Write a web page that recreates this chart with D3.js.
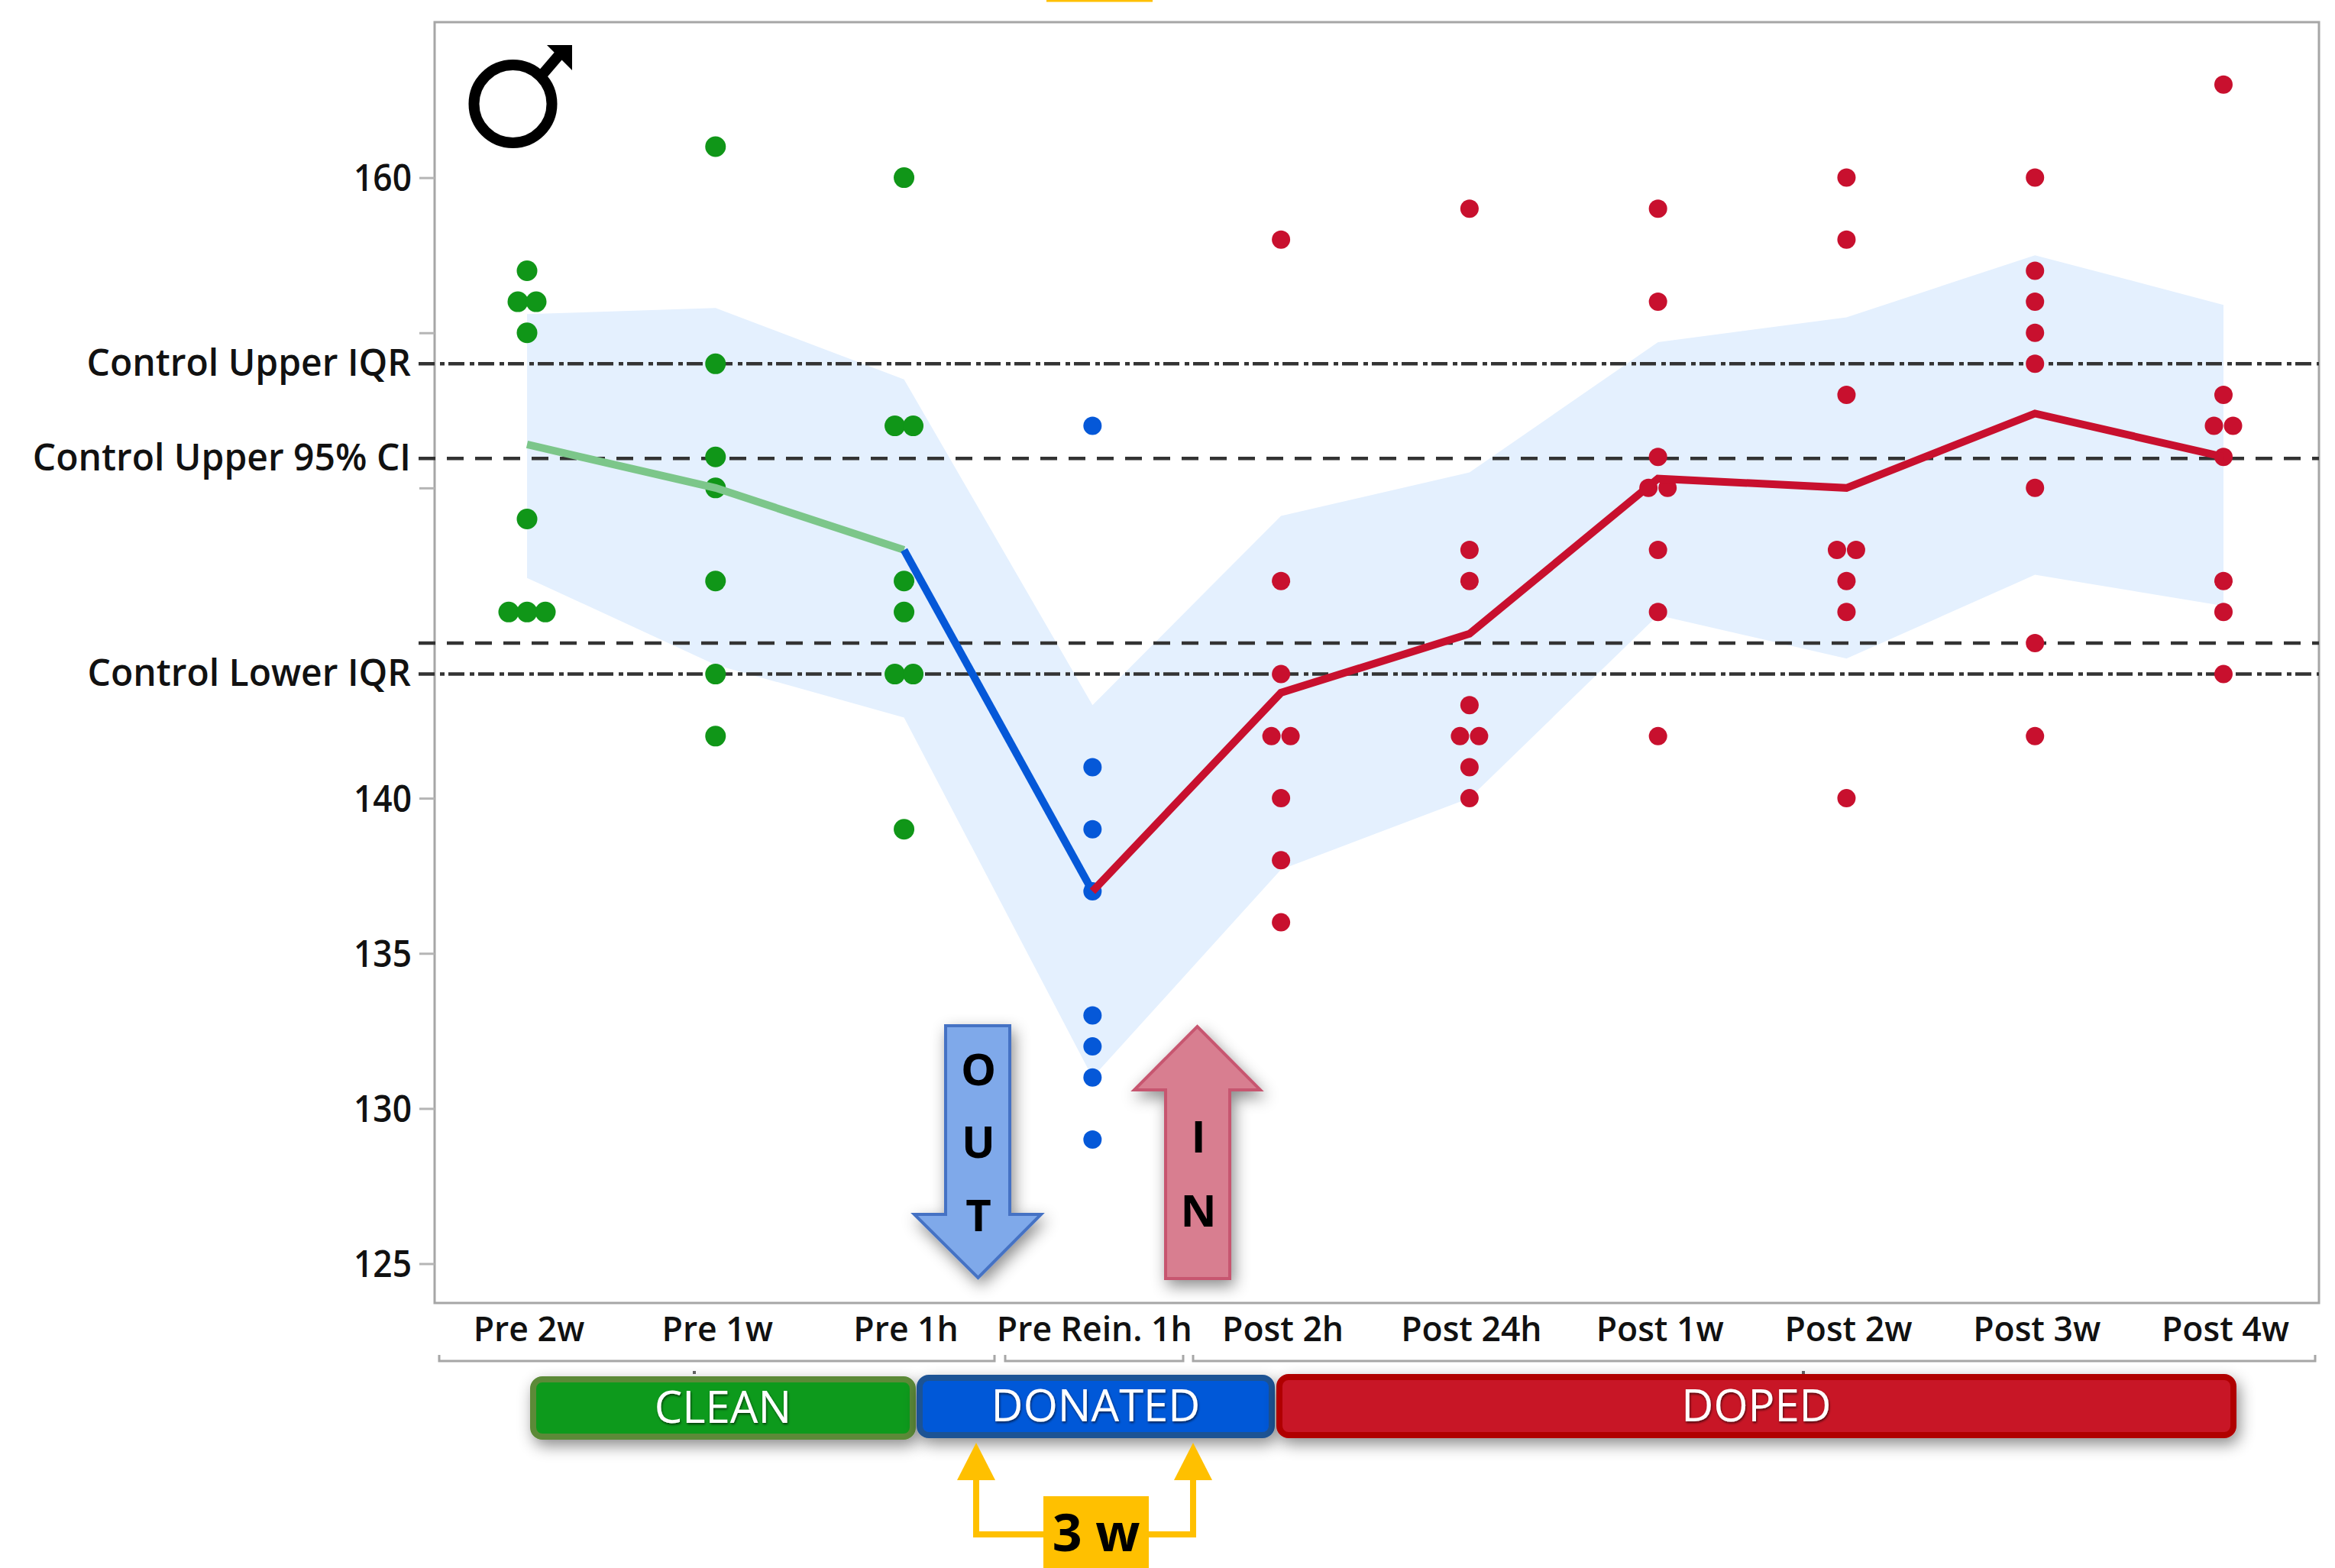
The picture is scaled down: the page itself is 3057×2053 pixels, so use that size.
<!DOCTYPE html>
<html><head><meta charset="utf-8">
<script src="https://cdn.jsdelivr.net/npm/d3@7/dist/d3.min.js"></script>
<style>html,body{margin:0;padding:0;background:#fff}svg{display:block}text{font-family:"Open Sans",sans-serif}</style>
</head><body><svg id="c" width="3057" height="2053"></svg>
<script>
const categories=["Pre 2w","Pre 1w","Pre 1h","Pre Rein. 1h","Post 2h","Post 24h","Post 1w","Post 2w","Post 3w","Post 4w"];
const groups=["clean","clean","clean","donated","doped","doped","doped","doped","doped","doped"];
const dotValues=[
 [157,156,156,155,149,146,146,146],
 [161,154,151,150,147,144,142],
 [160,152,152,147,146,144,144,139],
 [152,141,139,137,133,132,131,129],
 [158,147,144,142,142,140,138,136],
 [159,148,147,143,142,142,141,140],
 [159,156,151,150,150,148,146,142],
 [160,158,153,148,148,147,146,140],
 [160,157,156,155,154,150,145,142],
 [163,153,152,152,151,147,146,144]];
const meanLine=[151.4,150,148,137,143.4,145.3,150.3,150,152.4,151];
const bandUpper=[155.6,155.8,153.5,143,149.1,150.5,154.7,155.5,157.5,155.9];
const bandLower=[147.1,144.3,142.6,131,137.7,140,145.9,144.5,147.2,146.2];
const tickValues=[125,130,135,140,145,150,155,160];
const tickLabels=["125","130","135","140","","","","160"];
const refLabels=["Control Upper IQR","Control Upper 95% CI","","Control Lower IQR"];
const refValues=[154,150.95,145,144];
const refDash=["21 7 6 5","22 15","22 15","21 7 6 5"];
const phases=[["CLEAN",694,1199,1802,1885,"#119a1d","#5b8a37"],["DONATED",1200,1669,1800,1883,"#0558d8","#1f5394"],["DOPED",1671,2928,1799,1883,"#c81428","#b00000"]];

const L=569,R=3036,T=29,B=1706;
const svg=d3.select("#c");
const defs=svg.append("defs");
const f=defs.append("filter").attr("id","sh").attr("x","-20%").attr("y","-40%").attr("width","140%").attr("height","200%");
f.append("feDropShadow").attr("dx",4).attr("dy",8).attr("stdDeviation",10).attr("flood-color","#000").attr("flood-opacity",.45);
const f2=defs.append("filter").attr("id","ts").attr("x","-10%").attr("y","-10%").attr("width","120%").attr("height","130%");
f2.append("feDropShadow").attr("dx",1).attr("dy",2).attr("stdDeviation",1.5).attr("flood-color","#000").attr("flood-opacity",.6);

const x=d3.scalePoint().domain(categories).range([690,2911]);
const y=d3.scaleLinear().domain([125,160]).range([1654.5,232.6]);
const colors={clean:"#109618",donated:"#0558d8",doped:"#c8102e"};

// band
const area=d3.area().x((d,i)=>x(categories[i])).y0((d,i)=>y(bandLower[i])).y1((d,i)=>y(bandUpper[i]));
svg.append("path").attr("d",area(categories)).attr("fill","#e4f0fe");

// frame
svg.append("rect").attr("x",L).attr("y",T).attr("width",R-L).attr("height",B-T).attr("fill","none").attr("stroke","#a6a6a6").attr("stroke-width",3);

// y axis
const ya=d3.axisLeft(y).tickValues(tickValues).tickSize(20).tickFormat((d,i)=>tickLabels[i]);
const yg=svg.append("g").attr("transform",`translate(${L},0)`).call(ya);
yg.select(".domain").remove();
yg.selectAll("line").attr("stroke","#b5b5b5").attr("stroke-width",3);
yg.selectAll("text").attr("x",-30).attr("fill","#111").style("font-size","49px").style("font-weight",600).attr("dy","0.35em")
  .attr("textLength",d=>tickLabels[tickValues.indexOf(d)]?76:null).attr("lengthAdjust","spacingAndGlyphs");

// ref lines
refValues.forEach((v,i)=>{
 svg.append("line").attr("x1",548).attr("x2",R).attr("y1",y(v)).attr("y2",y(v)).attr("stroke","#333").attr("stroke-width",4.5).attr("stroke-dasharray",refDash[i]);
 if(refLabels[i])svg.append("text").attr("x",538).attr("y",y(v)-1).attr("dy","0.35em").attr("text-anchor","end").attr("fill","#111").style("font-size","48px").style("font-weight",600).text(refLabels[i]);
});

// dots
dotValues.forEach((vals,ci)=>{
 const cat=categories[ci];
 const counts=d3.rollup(vals,v=>v.length,d=>d);
 const seen=new Map();
 vals.forEach(v=>{
  const n=counts.get(v),k=seen.get(v)||0;seen.set(v,k+1);
  const r=groups[ci]==="clean"?13.5:12, gap=groups[ci]==="clean"?24:25;
  svg.append("circle").attr("cx",x(cat)+(k-(n-1)/2)*gap).attr("cy",y(v)).attr("r",r).attr("fill",colors[groups[ci]]);
 });
});

// mean lines
const ln=d3.line().x(d=>x(categories[d])).y(d=>y(meanLine[d]));
svg.append("path").attr("d",ln([0,1,2])).attr("fill","none").attr("stroke","#7cc68a").attr("stroke-width",10);
svg.append("path").attr("d",ln([2,3])).attr("fill","none").attr("stroke","#0558d8").attr("stroke-width",10);
svg.append("path").attr("d",ln([3,4,5,6,7,8,9])).attr("fill","none").attr("stroke","#c8102e").attr("stroke-width",10);

// x labels
const xa=d3.axisBottom(x).tickSize(0);
const xg=svg.append("g").attr("transform",`translate(2,${B})`).call(xa);
xg.select(".domain").remove();
xg.selectAll("text").attr("y",18).attr("dy","0.71em").attr("fill","#111").style("font-size","44.5px").style("font-weight",600);

// brackets
[[575,1302],[1316,1549],[1562,3031]].forEach(b=>{
 svg.append("path").attr("d",`M${b[0]},1774V1782H${b[1]}V1774`).attr("fill","none").attr("stroke","#a6a6a6").attr("stroke-width",3);
});
[909,2361].forEach(c=>svg.append("rect").attr("x",c-2).attr("y",1795).attr("width",4).attr("height",4).attr("fill","#666"));

// male symbol
svg.append("circle").attr("cx",671.5).attr("cy",136).attr("r",51).attr("fill","none").attr("stroke","#000").attr("stroke-width",14);
svg.append("line").attr("x1",708).attr("y1",100).attr("x2",732).attr("y2",72).attr("stroke","#000").attr("stroke-width",14);
svg.append("path").attr("d","M716,59H749V92Z").attr("fill","#000");

// OUT / IN arrows
svg.append("path").attr("d","M1238,1343H1322V1590H1363L1280.5,1673L1197,1590H1238Z").attr("fill","#7fa9ea").attr("stroke","#4472c4").attr("stroke-width",4).attr("filter","url(#sh)");
svg.append("path").attr("d","M1526,1674V1427H1485L1567.5,1344L1650,1427H1610V1674Z").attr("fill","#d87e90").attr("stroke","#c75670").attr("stroke-width",4).attr("filter","url(#sh)");
[["O",1421],["U",1516],["T",1612]].forEach(d=>svg.append("text").attr("x",1281).attr("y",d[1]).attr("text-anchor","middle").style("font-size","58px").style("font-weight",700).attr("fill","#000").text(d[0]));
[["I",1509],["N",1606]].forEach(d=>svg.append("text").attr("x",1569).attr("y",d[1]).attr("text-anchor","middle").style("font-size","58px").style("font-weight",700).attr("fill","#000").text(d[0]));

// phases
phases.forEach(p=>{
 svg.append("rect").attr("x",p[1]+4).attr("y",p[3]+4).attr("width",p[2]-p[1]-8).attr("height",p[4]-p[3]-8).attr("rx",12).attr("fill",p[5]).attr("stroke",p[6]).attr("stroke-width",8).attr("filter","url(#sh)");
});
phases.forEach(p=>{
 svg.append("text").attr("x",(p[1]+p[2])/2).attr("y",(p[3]+p[4])/2-1).attr("dy","0.36em").attr("text-anchor","middle").attr("fill","#fff").style("font-size","58px").attr("filter","url(#ts)").text(p[0]);
});

// 3 w bracket
const gold="#ffc000";
svg.append("path").attr("d","M1278,1938V2009H1562V1938").attr("fill","none").attr("stroke",gold).attr("stroke-width",8);
[1278,1562].forEach(c=>svg.append("path").attr("d",`M${c},1889L${c+25},1938H${c-25}Z`).attr("fill",gold));
svg.append("rect").attr("x",1366).attr("y",1959).attr("width",138).attr("height",94).attr("fill",gold);
svg.append("text").attr("x",1435).attr("y",2031).attr("text-anchor","middle").style("font-size","68px").style("font-weight",700).attr("fill","#000").text("3 w");
svg.append("rect").attr("x",1370).attr("y",0).attr("width",139).attr("height",2.5).attr("fill",gold);
</script></body></html>
